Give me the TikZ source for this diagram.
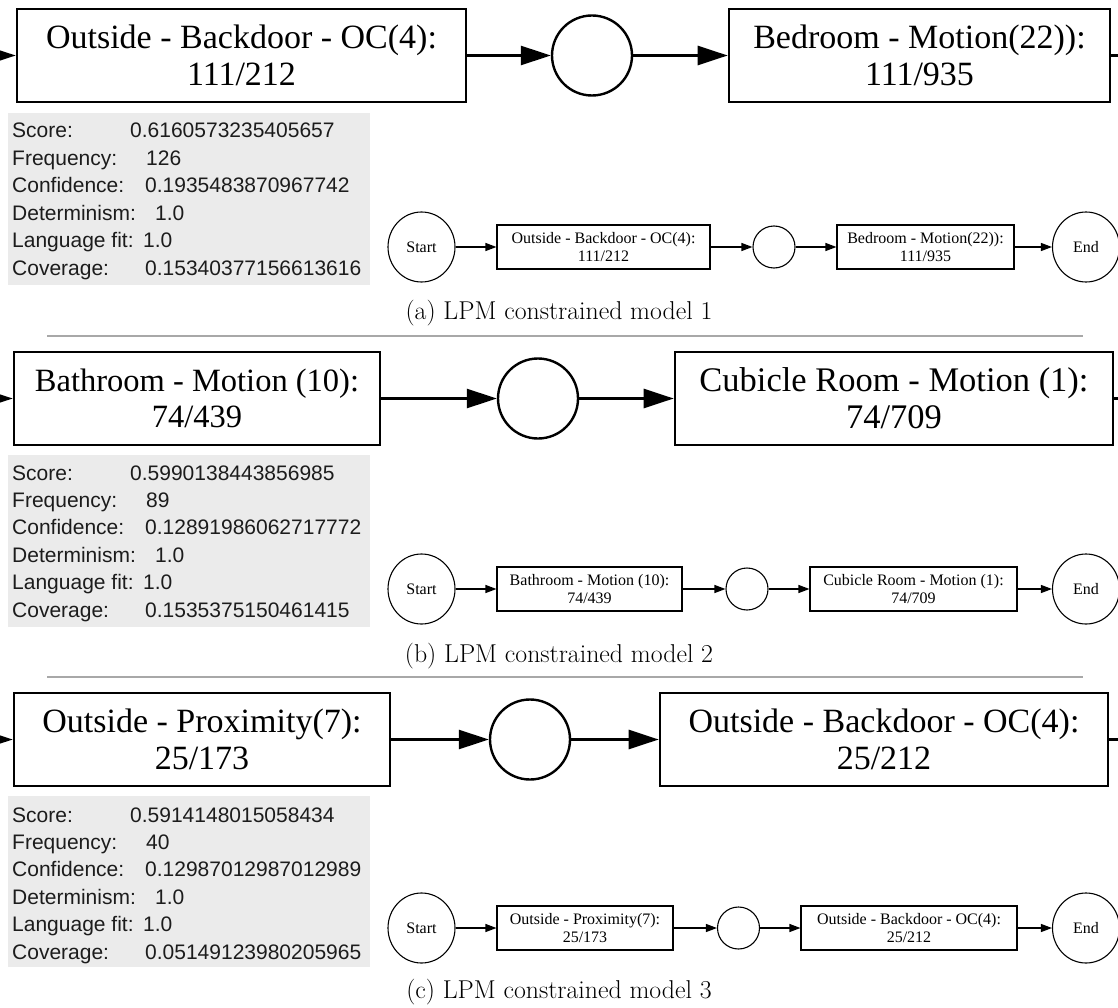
\documentclass[tikz,border=0pt]{standalone}
\usepackage{fontspec}
\usetikzlibrary{arrows.meta,shapes.geometric}
\newfontfamily\tnr{Liberation Serif}
\newfontfamily\arl{Liberation Sans}
\definecolor{statgray}{HTML}{EBEBEB}
\definecolor{stattext}{HTML}{1C1C1C}
\definecolor{rulegray}{HTML}{A8A8A8}
\tikzset{
  bigbox/.style={draw, line width=2.6pt, minimum height=93pt, inner sep=0pt,
    align=center, font=\tnr\fontsize{34}{37}\selectfont},
  bigplace/.style={circle, draw, line width=2.4pt, minimum size=80pt, inner sep=0pt},
  bigarrow/.style={line width=2.6pt, -{Triangle[length=30pt,width=19pt]}},
  smallbox/.style={draw, line width=1.1pt, minimum height=44pt, inner sep=0pt,
    align=center, font=\tnr\fontsize{16}{18}\selectfont},
  smallplace/.style={circle, draw, line width=1.1pt, minimum size=42pt, inner sep=0pt},
  terminal/.style={ellipse, draw, line width=1.1pt, minimum width=67pt,
    minimum height=70pt, inner sep=0pt, font=\tnr\fontsize{16}{18}\selectfont},
  smallarrow/.style={line width=1.2pt, -{Triangle[length=11pt,width=8pt]}},
  statpanel/.style={fill=statgray, draw=none},
  stat/.style={anchor=base west, inner sep=0pt, text=stattext,
    font=\arl\fontsize{21}{24}\selectfont},
  caption/.style={font=\fontsize{25.8}{29}\selectfont, inner sep=0pt},
  separator/.style={rulegray, line width=1.4pt},
}
\newcommand\statrows[8]{%
  % #1 prefix, #2 first baseline, #3..#8 values
  \node[stat] (#1l1) at (12,#2) {Score:};
  \node[stat] (#1v1) at (130,#2) {#3};
  \node[stat] (#1l2) at (12,#2+27.4) {Frequency:};
  \node[stat] (#1v2) at (146,#2+27.4) {#4};
  \node[stat] (#1l3) at (12,#2+54.8) {Confidence:};
  \node[stat] (#1v3) at (145,#2+54.8) {#5};
  \node[stat] (#1l4) at (12,#2+82.2) {Determinism:};
  \node[stat] (#1v4) at (155,#2+82.2) {#6};
  \node[stat] (#1l5) at (12,#2+109.6) {Language fit:};
  \node[stat] (#1v5) at (143,#2+109.6) {#7};
  \node[stat] (#1l6) at (12,#2+137) {Coverage:};
  \node[stat] (#1v6) at (145,#2+137) {#8};
}
\begin{document}
\begin{tikzpicture}[x=1pt,y=-1pt]
\useasboundingbox (0,0) rectangle (1118,1008);
\clip (0,0) rectangle (1118,1008);

% ---------------- model 1 ----------------
\node[bigbox, minimum width=449pt] (a1) at (241.5,55.5) {Outside - Backdoor - OC(4):\\111/212};
\node[bigplace] (ap) at (592,55.5) {};
\node[bigbox, minimum width=381pt] (a2) at (919.5,55.5) {Bedroom - Motion(22)):\\111/935};
\coordinate (ain) at (-40,55.5);
\coordinate (aout) at (1160,55.5);
\draw[bigarrow] (ain) -- (a1);
\draw[bigarrow] (a1) -- (ap);
\draw[bigarrow] (ap) -- (a2);
\draw[bigarrow] (a2) -- (aout);

\fill[statpanel] (8,113) rectangle (370,285);
\statrows{a}{138}{0.6160573235405657}{126}{0.1935483870967742}{1.0}{1.0}{0.15340377156613616}

\node[terminal] (as) at (421.5,247) {Start};
\node[smallbox, minimum width=213pt] (ab1) at (603.5,247) {Outside - Backdoor - OC(4):\\111/212};
\node[smallplace] (asp) at (774,247) {};
\node[smallbox, minimum width=177pt] (ab2) at (925.5,247) {Bedroom - Motion(22)):\\111/935};
\node[terminal] (ae) at (1086,247) {End};
\draw[smallarrow] (as) -- (ab1);
\draw[smallarrow] (ab1) -- (asp);
\draw[smallarrow] (asp) -- (ab2);
\draw[smallarrow] (ab2) -- (ae);

\node[caption] (acap) at (559,313) {(a) LPM constrained model 1};
\coordinate (r1a) at (47,336);
\coordinate (r1b) at (1083,336);
\draw[separator] (r1a) -- (r1b);

% ---------------- model 2 ----------------
\node[bigbox, minimum width=366pt, font=\tnr\fontsize{32.5}{36}\selectfont] (b1) at (197,398.5) {Bathroom - Motion (10):\\74/439};
\node[bigplace] (bp) at (538,398.5) {};
\node[bigbox, minimum width=438pt, font=\tnr\fontsize{34.5}{37}\selectfont] (b2) at (894,398.5) {Cubicle Room - Motion (1):\\74/709};
\coordinate (bin) at (-40,398.5);
\coordinate (bout) at (1160,398.5);
\draw[bigarrow] (bin) -- (b1);
\draw[bigarrow] (b1) -- (bp);
\draw[bigarrow] (bp) -- (b2);
\draw[bigarrow] (b2) -- (bout);

\fill[statpanel] (8,455) rectangle (370,627);
\statrows{b}{480}{0.5990138443856985}{89}{0.12891986062717772}{1.0}{1.0}{0.1535375150461415}

\node[terminal] (bs) at (421.5,589) {Start};
\node[smallbox, minimum width=185pt] (bb1) at (589.5,589) {Bathroom - Motion (10):\\74/439};
\node[smallplace] (bsp) at (747,589) {};
\node[smallbox, minimum width=207pt] (bb2) at (913.5,589) {Cubicle Room - Motion (1):\\74/709};
\node[terminal] (be) at (1086,589) {End};
\draw[smallarrow] (bs) -- (bb1);
\draw[smallarrow] (bb1) -- (bsp);
\draw[smallarrow] (bsp) -- (bb2);
\draw[smallarrow] (bb2) -- (be);

\node[caption] (bcap) at (559,656) {(b) LPM constrained model 2};
\coordinate (r2a) at (47,677);
\coordinate (r2b) at (1083,677);
\draw[separator] (r2a) -- (r2b);

% ---------------- model 3 ----------------
\node[bigbox, minimum width=376pt] (c1) at (202,739.5) {Outside - Proximity(7):\\25/173};
\node[bigplace] (cp) at (530,739.5) {};
\node[bigbox, minimum width=448pt] (c2) at (884,739.5) {Outside - Backdoor - OC(4):\\25/212};
\coordinate (cin) at (-40,739.5);
\coordinate (cout) at (1160,739.5);
\draw[bigarrow] (cin) -- (c1);
\draw[bigarrow] (c1) -- (cp);
\draw[bigarrow] (cp) -- (c2);
\draw[bigarrow] (c2) -- (cout);

\fill[statpanel] (8,796) rectangle (370,967);
\statrows{c}{822}{0.5914148015058434}{40}{0.12987012987012989}{1.0}{1.0}{0.05149123980205965}

\node[terminal] (cs) at (421.5,928) {Start};
\node[smallbox, minimum width=176pt] (cb1) at (585,928) {Outside - Proximity(7):\\25/173};
\node[smallplace] (csp) at (738.5,928) {};
\node[smallbox, minimum width=216pt] (cb2) at (909,928) {Outside - Backdoor - OC(4):\\25/212};
\node[terminal] (ce) at (1086,928) {End};
\draw[smallarrow] (cs) -- (cb1);
\draw[smallarrow] (cb1) -- (csp);
\draw[smallarrow] (csp) -- (cb2);
\draw[smallarrow] (cb2) -- (ce);

\node[caption] (ccap) at (559,992) {(c) LPM constrained model 3};
\end{tikzpicture}
\end{document}
